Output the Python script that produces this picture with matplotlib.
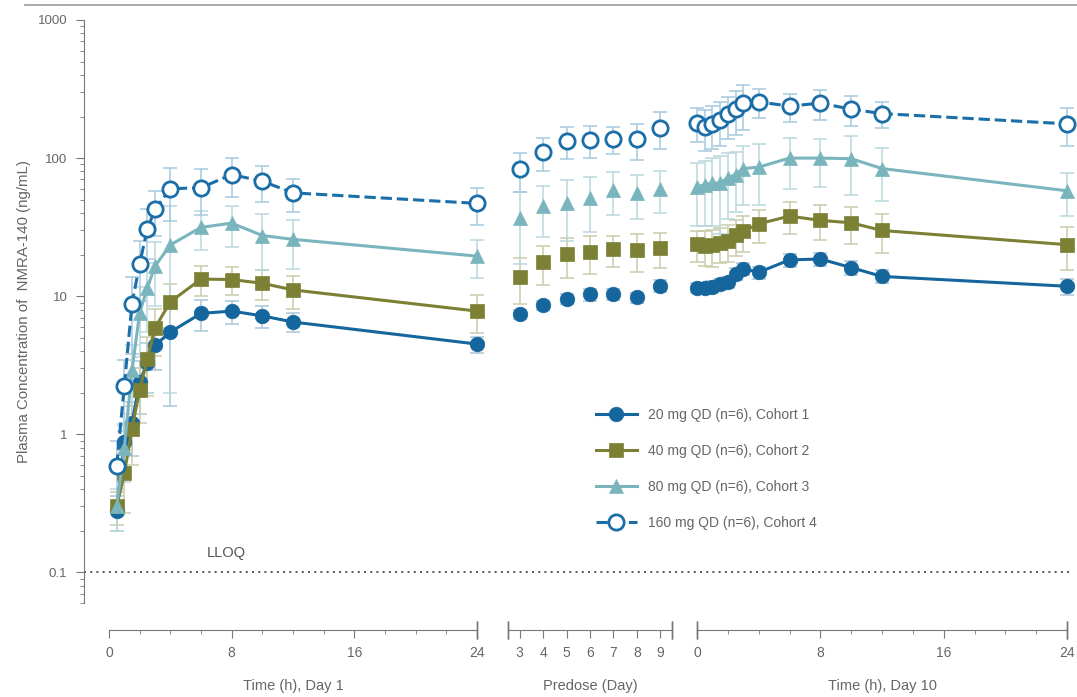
import numpy as np
import matplotlib
matplotlib.use('Agg')
import matplotlib.pyplot as plt
import matplotlib.transforms as mtransforms
from matplotlib.lines import Line2D

plt.rcParams['font.family'] = ['Liberation Sans', 'DejaVu Sans']

# ---- data ----
t_day1 = [0.5, 1, 1.5, 2, 2.5, 3, 4, 6, 8, 10, 12, 24]
t_pre = [3, 4, 5, 6, 7, 8, 9]
t_day10 = [0, 0.5, 1, 1.5, 2, 2.5, 3, 4, 6, 8, 10, 12, 24]

labels = ['20 mg QD (n=6), Cohort 1', '40 mg QD (n=6), Cohort 2',
          '80 mg QD (n=6), Cohort 3', '160 mg QD (n=6), Cohort 4']

c1_day1 = [0.28, 0.88, 1.2, 2.4, 3.3, 4.4, 5.5, 7.5, 7.8, 7.2, 6.5, 4.5]
c1_day1_sd = [0.08, 0.3, 0.5, 1.0, 1.3, 1.5, 3.9, 1.9, 1.5, 1.3, 1.0, 0.6]
c1_pre = [7.4, 8.6, 9.6, 10.3, 10.3, 9.8, 11.9]
c1_pre_sd = [0.6, 0.7, 0.8, 1.0, 0.9, 0.8, 1.2]
c1_day10 = [11.5, 11.5, 11.7, 12.2, 12.6, 14.5, 15.8, 14.9, 18.3, 18.6, 16.1, 13.9, 11.8]
c1_day10_sd = [1.0, 1.0, 1.1, 1.1, 1.2, 1.5, 1.6, 1.5, 2.0, 2.0, 1.8, 1.5, 1.6]

c2_day1 = [0.3, 0.52, 1.1, 2.1, 3.5, 5.9, 9.1, 13.3, 13.2, 12.4, 11.1, 7.8]
c2_day1_sd = [0.08, 0.25, 0.5, 0.9, 1.6, 2.2, 3.2, 3.2, 3.0, 3.0, 3.0, 2.4]
c2_pre = [13.8, 17.6, 20.1, 21.0, 21.8, 21.5, 22.4]
c2_pre_sd = [5.0, 5.5, 6.5, 6.5, 5.5, 6.5, 6.5]
c2_day10 = [23.7, 23.0, 23.4, 24.4, 25.3, 27.6, 29.5, 33.4, 38.0, 35.4, 34.0, 29.9, 23.6]
c2_day10_sd = [6.0, 6.5, 7.0, 7.0, 7.5, 8.0, 8.5, 9.0, 10.0, 10.0, 10.0, 9.5, 8.0]

c3_day1 = [0.3, 0.8, 2.9, 7.6, 11.5, 16.5, 23.5, 31.5, 33.8, 27.5, 25.8, 19.5]
c3_day1_sd = [0.1, 0.35, 1.5, 4.0, 6.0, 8.0, 21.5, 10.0, 11.0, 12.0, 10.0, 6.0]
c3_pre = [37, 45, 47, 51, 59, 56, 60]
c3_pre_sd = [20, 18, 22, 22, 20, 20, 20]
c3_day10 = [62, 64, 66, 66, 72, 76, 84, 86, 100, 100, 99, 84, 58]
c3_day10_sd = [30, 32, 34, 38, 36, 35, 38, 40, 40, 38, 45, 35, 20]

c4_day1 = [0.59, 2.25, 8.8, 17.2, 30.7, 42.5, 60, 61, 76, 68, 56, 47]
c4_day1_sd = [0.3, 1.2, 5.0, 8.0, 12.0, 15.0, 25.0, 22.0, 24.0, 20.0, 15.0, 14.0]
c4_pre = [83, 110, 133, 135, 137, 137, 166]
c4_pre_sd = [26, 30, 35, 35, 30, 40, 50]
c4_day10 = [180, 167, 177, 188, 207, 226, 250, 255, 238, 250, 226, 210, 177]
c4_day10_sd = [50, 55, 60, 65, 70, 80, 90, 60, 55, 60, 55, 45, 55]

colors = ['#16669e', '#7b8034', '#7ab5bd', '#1b6ea8']
markers = ['o', 's', '^', 'o']
mfc = ['#16669e', '#7b8034', '#7ab5bd', 'white']
lstyle = ['-', '-', '-', '--']
msize = [10.5, 10.5, 10.5, 11]
ecol = ['#a9c6da', '#c9cbab', '#b9d8dc', '#a6c9de']

series = [
    (c1_day1, c1_day1_sd, c1_pre, c1_pre_sd, c1_day10, c1_day10_sd),
    (c2_day1, c2_day1_sd, c2_pre, c2_pre_sd, c2_day10, c2_day10_sd),
    (c3_day1, c3_day1_sd, c3_pre, c3_pre_sd, c3_day10, c3_day10_sd),
    (c4_day1, c4_day1_sd, c4_pre, c4_pre_sd, c4_day10, c4_day10_sd),
]

W, H = 1077, 697
fig = plt.figure(figsize=(W / 100, H / 100), dpi=100)


def rect(x0, x1, y0, y1):
    return [x0 / W, 1 - y1 / H, (x1 - x0) / W, (y1 - y0) / H]


gray = '#777777'
tgray = '#666666'

# background axes carries the y axis and the LLOQ line
ax0 = fig.add_axes(rect(84, 1072, 20, 603))
ax0.set_yscale('log')
ax0.set_ylim(0.06, 1000)
ax0.set_xlim(0, 1)
for s in ['top', 'right', 'bottom']:
    ax0.spines[s].set_visible(False)
ax0.spines['left'].set_color(gray)
ax0.set_xticks([])
ax0.set_yticks([0.1, 1, 10, 100, 1000])
ax0.set_yticklabels(['0.1', '1', '10', '100', '1000'])
ax0.tick_params(axis='y', which='major', length=6, color=gray, labelcolor=tgray,
                labelsize=9.5, pad=6)
ax0.tick_params(axis='y', which='minor', length=3, color=gray)
ax0.set_ylabel('Plasma Concentration of  NMRA-140 (ng/mL)', color=tgray,
               fontsize=10.8, labelpad=5)
ax0.axhline(0.1, color='#555555', linestyle=(0, (1, 2.2)), linewidth=1.4)
ax0.text(0.124, 0.13, 'LLOQ', color='#555555', fontsize=10.5,
         transform=ax0.get_yaxis_transform())

panels = [
    (109, 477, (0, 24), [0, 8, 16, 24], np.arange(0, 25, 2), 'Time (h), Day 1', (False, True)),
    (508, 672, (2.5, 9.5), [3, 4, 5, 6, 7, 8, 9], [], 'Predose (Day)', (True, True)),
    (697, 1067, (0, 24), [0, 8, 16, 24], np.arange(0, 25, 2), 'Time (h), Day 10', (True, True)),
]
times = [t_day1, t_pre, t_day10]

outward = 27 * 72 / 100.0
axes = []
for (x0, x1, xl, maj, mnr, xlabel, brk) in panels:
    ax = fig.add_axes(rect(x0, x1, 20, 603), sharey=ax0)
    ax.patch.set_alpha(0)
    for s in ['top', 'right', 'left']:
        ax.spines[s].set_visible(False)
    ax.spines['bottom'].set_position(('outward', outward))
    ax.spines['bottom'].set_color(gray)
    ax.set_xlim(*xl)
    ax.set_xticks(maj)
    ax.set_xticks(mnr, minor=True)
    ax.tick_params(axis='x', which='major', length=6, color=gray, labelcolor=tgray,
                   labelsize=10, pad=5.5)
    ax.tick_params(axis='x', which='minor', length=3, color=gray)
    ax.tick_params(axis='y', which='both', left=False, labelleft=False)
    ax.set_xlabel(xlabel, color=tgray, fontsize=10.5, labelpad=13.5)
    off = mtransforms.ScaledTranslation(0, -outward / 72, fig.dpi_scale_trans)
    tr = ax.transAxes + off
    for side, pos in zip(brk, [0, 1]):
        if side:
            ax.plot([pos, pos], [0, 0], transform=tr, marker='|', markersize=13,
                    color=gray, markeredgewidth=1.0, clip_on=False)
    axes.append(ax)

order = [2, 1, 0, 3]
for k in order:
    data = series[k]
    for p, ax in enumerate(axes):
        y = data[2 * p]
        sd = data[2 * p + 1]
        ls = 'none' if p == 1 else lstyle[k]
        ax.errorbar(times[p], y, yerr=sd, fmt='none', ecolor=ecol[k], elinewidth=1.1,
                    capsize=5, capthick=1.1, zorder=2 + k * 0.1, clip_on=False)
        ax.plot(times[p], y, linestyle=ls, color=colors[k], linewidth=2.2,
                marker=markers[k], markersize=msize[k], markerfacecolor=mfc[k],
                markeredgecolor=colors[k], markeredgewidth=2 if k == 3 else 0.5,
                zorder=5 + k * 0.1, clip_on=False)

handles = [Line2D([0], [0], color=colors[k], linestyle=lstyle[k], linewidth=2.2,
                  marker=markers[k], markersize=msize[k], markerfacecolor=mfc[k],
                  markeredgecolor=colors[k], markeredgewidth=2 if k == 3 else 0.5)
           for k in range(4)]
leg = ax0.legend(handles, labels, loc='upper left', bbox_to_anchor=(499 / 988, 1 - 375 / 583),
                 frameon=False, fontsize=10, labelspacing=1.6, handlelength=3.0,
                 handletextpad=0.8)
for txt in leg.get_texts():
    txt.set_color(tgray)

fig.add_artist(Line2D([25 / W, 1], [1 - 5 / H, 1 - 5 / H], color='#999999', linewidth=1.2))

fig.savefig('out.png', dpi=100)
